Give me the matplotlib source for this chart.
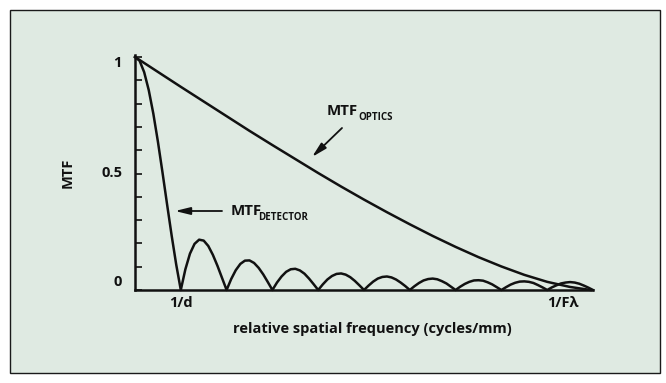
import numpy as np
import matplotlib
matplotlib.use("Agg")
import matplotlib.pyplot as plt
from matplotlib.patches import Rectangle

# ---- data ----
freq_detector = [round(0.1 * i, 1) for i in range(101)]
mtf_detector = [1.000, 0.984, 0.935, 0.858, 0.757, 0.637, 0.505, 0.368, 0.234, 0.109,
                0.000, 0.089, 0.156, 0.198, 0.216, 0.212, 0.189, 0.151, 0.104, 0.052,
                0.000, 0.047, 0.085, 0.112, 0.126, 0.127, 0.116, 0.095, 0.067, 0.034,
                0.000, 0.032, 0.058, 0.078, 0.089, 0.091, 0.084, 0.070, 0.049, 0.025,
                0.000, 0.024, 0.045, 0.060, 0.069, 0.071, 0.066, 0.055, 0.039, 0.020,
                0.000, 0.019, 0.036, 0.049, 0.056, 0.058, 0.054, 0.045, 0.032, 0.017,
                0.000, 0.016, 0.030, 0.041, 0.047, 0.049, 0.046, 0.038, 0.028, 0.014,
                0.000, 0.014, 0.026, 0.035, 0.041, 0.042, 0.040, 0.033, 0.024, 0.012,
                0.000, 0.012, 0.023, 0.031, 0.036, 0.037, 0.035, 0.030, 0.021, 0.011,
                0.000, 0.011, 0.020, 0.028, 0.032, 0.034, 0.032, 0.027, 0.019, 0.010,
                0.000]
freq_optics = [0.0, 0.5, 1.0, 1.5, 2.0, 2.5, 3.0, 3.5, 4.0, 4.5, 5.0,
               5.5, 6.0, 6.5, 7.0, 7.5, 8.0, 8.5, 9.0, 9.5, 9.95]
mtf_optics = [1.000, 0.936, 0.872, 0.809, 0.746, 0.683, 0.622, 0.562, 0.502, 0.444, 0.388,
              0.334, 0.282, 0.232, 0.185, 0.141, 0.101, 0.065, 0.035, 0.013, 0.000]
y_ticks = [0.0, 0.1, 0.2, 0.3, 0.4, 0.5, 0.6, 0.7, 0.8, 0.9, 1.0]
y_labels = ["1", "0.5", "0"]
x_marks = {1.0: "1/d", 9.35: "1/F\u03bb"}

W, H = 666, 383
BG = "#dfeae2"
fig = plt.figure(figsize=(W / 100, H / 100), dpi=100)
fig.patch.set_facecolor("white")
fig.patches.append(Rectangle((10 / W, 1 - 373 / H), 650 / W, 363 / H, transform=fig.transFigure,
                             facecolor=BG, edgecolor="#1a1a1a", lw=1.0, zorder=-5))

def px(x, y):
    return x / W, 1 - y / H

l, r, b, t = 135, 593, 290, 57
ax = fig.add_axes([l / W, 1 - b / H, (r - l) / W, (b - t) / H], zorder=2)
ax.set_facecolor("none")
ax.set_xlim(0, 10)
ax.set_ylim(0, 1)
for s in ["top", "right"]:
    ax.spines[s].set_visible(False)
for s in ["left", "bottom"]:
    ax.spines[s].set_linewidth(1.8)
    ax.spines[s].set_color("#111111")
ax.spines["left"].set_bounds(0, 1.01)
ax.set_xticks([])
ax.set_yticks(y_ticks)
ax.set_yticklabels([])
ax.tick_params(axis="y", direction="in", length=5, width=1.2, color="#111111")

ax.plot(freq_detector, mtf_detector, color="#111111", lw=1.8, clip_on=False, solid_joinstyle="round")
ax.plot(freq_optics, mtf_optics, color="#111111", lw=1.8, clip_on=False, solid_joinstyle="round")

font = ["Open Sans", "DejaVu Sans"]
tk = dict(fontsize=10.5, fontweight="bold", family=font, color="#111111")

label_pos = {"1": (122, 63), "0.5": (122, 173), "0": (122, 282)}
for s in y_labels:
    x0, y0 = label_pos[s]
    fig.text(*px(x0, y0), s, ha="right", va="center", **tk)

for v, s in x_marks.items():
    ax.text(v, -0.055, s, ha="center", va="center", transform=ax.get_xaxis_transform(), **tk)

fig.text(*px(68, 173), "MTF", rotation=90, ha="center", va="center", **tk)
fig.text(*px(372, 329), "relative spatial frequency (cycles/mm)", ha="center", va="center", **tk)

# annotations
big = dict(fontsize=10.8, fontweight="bold", family=font, color="#111111")
small = dict(fontsize=7.0, fontweight="bold", family=font, color="#111111")
fig.text(*px(231, 211), "MTF", ha="left", va="center", **big)
fig.text(*px(258, 217), "DETECTOR", ha="left", va="center", **small)
fig.text(*px(327, 111), "MTF", ha="left", va="center", **big)
fig.text(*px(358, 118), "OPTICS", ha="left", va="center", **small)

aprops = dict(arrowstyle="-|>,head_length=0.9,head_width=0.22", color="#111111", lw=1.3, shrinkA=0, shrinkB=0)
ax.annotate("", xy=px(175, 211), xycoords="figure fraction", xytext=px(222, 211), textcoords="figure fraction",
            arrowprops=aprops)
ax.annotate("", xy=px(312, 157), xycoords="figure fraction", xytext=px(342, 128), textcoords="figure fraction",
            arrowprops=aprops)

fig.savefig("out.png", dpi=100, facecolor="white")
